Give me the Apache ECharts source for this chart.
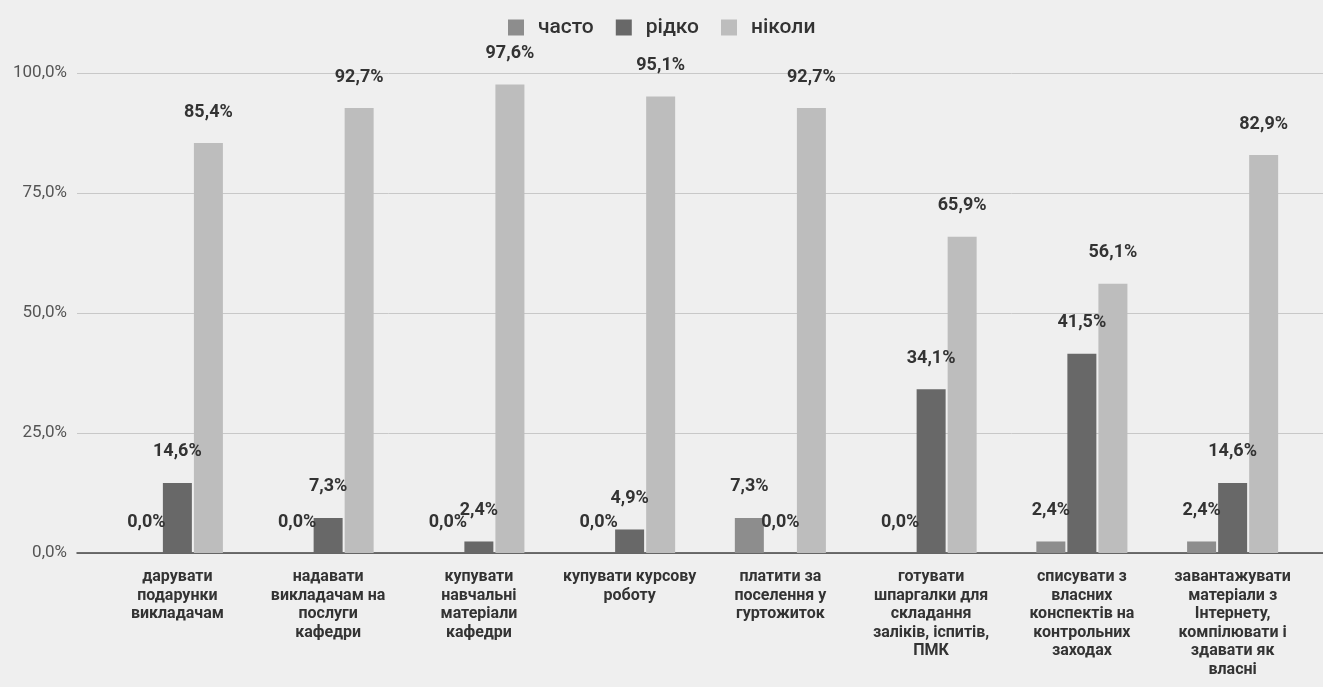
<!DOCTYPE html>
<html>
<head>
<meta charset="utf-8">
<script src="https://cdn.jsdelivr.net/npm/echarts@6/dist/echarts.min.js"></script>
<style>
  html, body { margin: 0; padding: 0; background: #efefef; }
  #main { width: 1323px; height: 687px; }
</style>
</head>
<body>
<div id="main"></div>
<script>
const categories = [
  'дарувати\nподарунки\nвикладачам',
  'надавати\nвикладачам на\nпослуги\nкафедри',
  'купувати\nнавчальні\nматеріали\nкафедри',
  'купувати курсову\nроботу',
  'платити за\nпоселення у\nгуртожиток',
  'готувати\nшпаргалки для\nскладання\nзаліків, іспитів,\nПМК',
  'списувати з\nвласних\nконспектів на\nконтрольних\nзаходах',
  'завантажувати\nматеріали з\nІнтернету,\nкомпілювати і\nздавати як\nвласні'
];
const seriesNames = ['часто', 'рідко', 'ніколи'];
const often = [0, 0, 0, 0, 7.3, 0, 2.4, 2.4];
const rarely = [14.6, 7.3, 2.4, 4.9, 0, 34.1, 41.5, 14.6];
const never = [85.4, 92.7, 97.6, 95.1, 92.7, 65.9, 56.1, 82.9];
const yTicks = [0, 25, 50, 75, 100];

const colors = ['#8d8d8d', '#686868', '#bdbdbd'];
const fmt = (v) => v.toFixed(1).replace('.', ',') + '%';

const chart = echarts.init(document.getElementById('main'));

const labelOption = {
  show: true,
  position: 'top',
  distance: 22,
  fontFamily: 'Roboto',
  fontWeight: 'bold',
  fontSize: 18,
  color: '#333',
  formatter: (p) => fmt(p.value)
};

const option = {
  backgroundColor: '#efefef',
  animation: false,
  legend: {
    data: seriesNames,
    top: 12,
    left: 503,
    itemWidth: 16,
    itemHeight: 16,
    itemGap: 22,
    icon: 'rect',
    textStyle: {
      fontFamily: 'Roboto',
      fontSize: 21,
      fontWeight: 500,
      color: '#333',
      padding: [0, 0, 0, 9]
    }
  },
  grid: [
    { left: 77, right: 0, top: 73, bottom: 134 },
    { left: 102, right: 15, top: 73, bottom: 134 }
  ],
  xAxis: [
    {
      gridIndex: 0,
      type: 'value',
      min: 0,
      max: 1,
      axisLine: { show: true, onZero: true, lineStyle: { color: '#444', width: 1.5 } },
      axisTick: { show: false },
      axisLabel: { show: false },
      splitLine: { show: false }
    },
    {
      gridIndex: 1,
      type: 'category',
      data: categories,
      axisLine: { show: false },
      axisTick: { show: false },
      axisLabel: {
        interval: 0,
        margin: 15,
        fontFamily: 'Roboto',
        fontWeight: 'bold',
        fontSize: 16,
        lineHeight: 18.5,
        color: '#333',
        align: 'center'
      }
    }
  ],
  yAxis: [
    {
      gridIndex: 0,
      type: 'value',
      min: yTicks[0],
      max: yTicks[yTicks.length - 1],
      interval: 25,
      axisLine: { show: false },
      axisTick: { show: false },
      axisLabel: {
        margin: 10,
        fontFamily: 'Roboto',
        fontSize: 17,
        color: '#555',
        formatter: (v) => fmt(v)
      },
      splitLine: { lineStyle: { color: '#c8c8c8', width: 1 } }
    },
    {
      gridIndex: 1,
      type: 'value',
      min: 0,
      max: 100,
      show: false
    }
  ],
  series: [often, rarely, never].map((d, i) => ({
    name: seriesNames[i],
    type: 'bar',
    xAxisIndex: 1,
    yAxisIndex: 1,
    data: d,
    barWidth: 29,
    barGap: '7%',
    itemStyle: { color: colors[i] },
    label: labelOption
  }))
};

chart.setOption(option);
</script>
</body>
</html>
